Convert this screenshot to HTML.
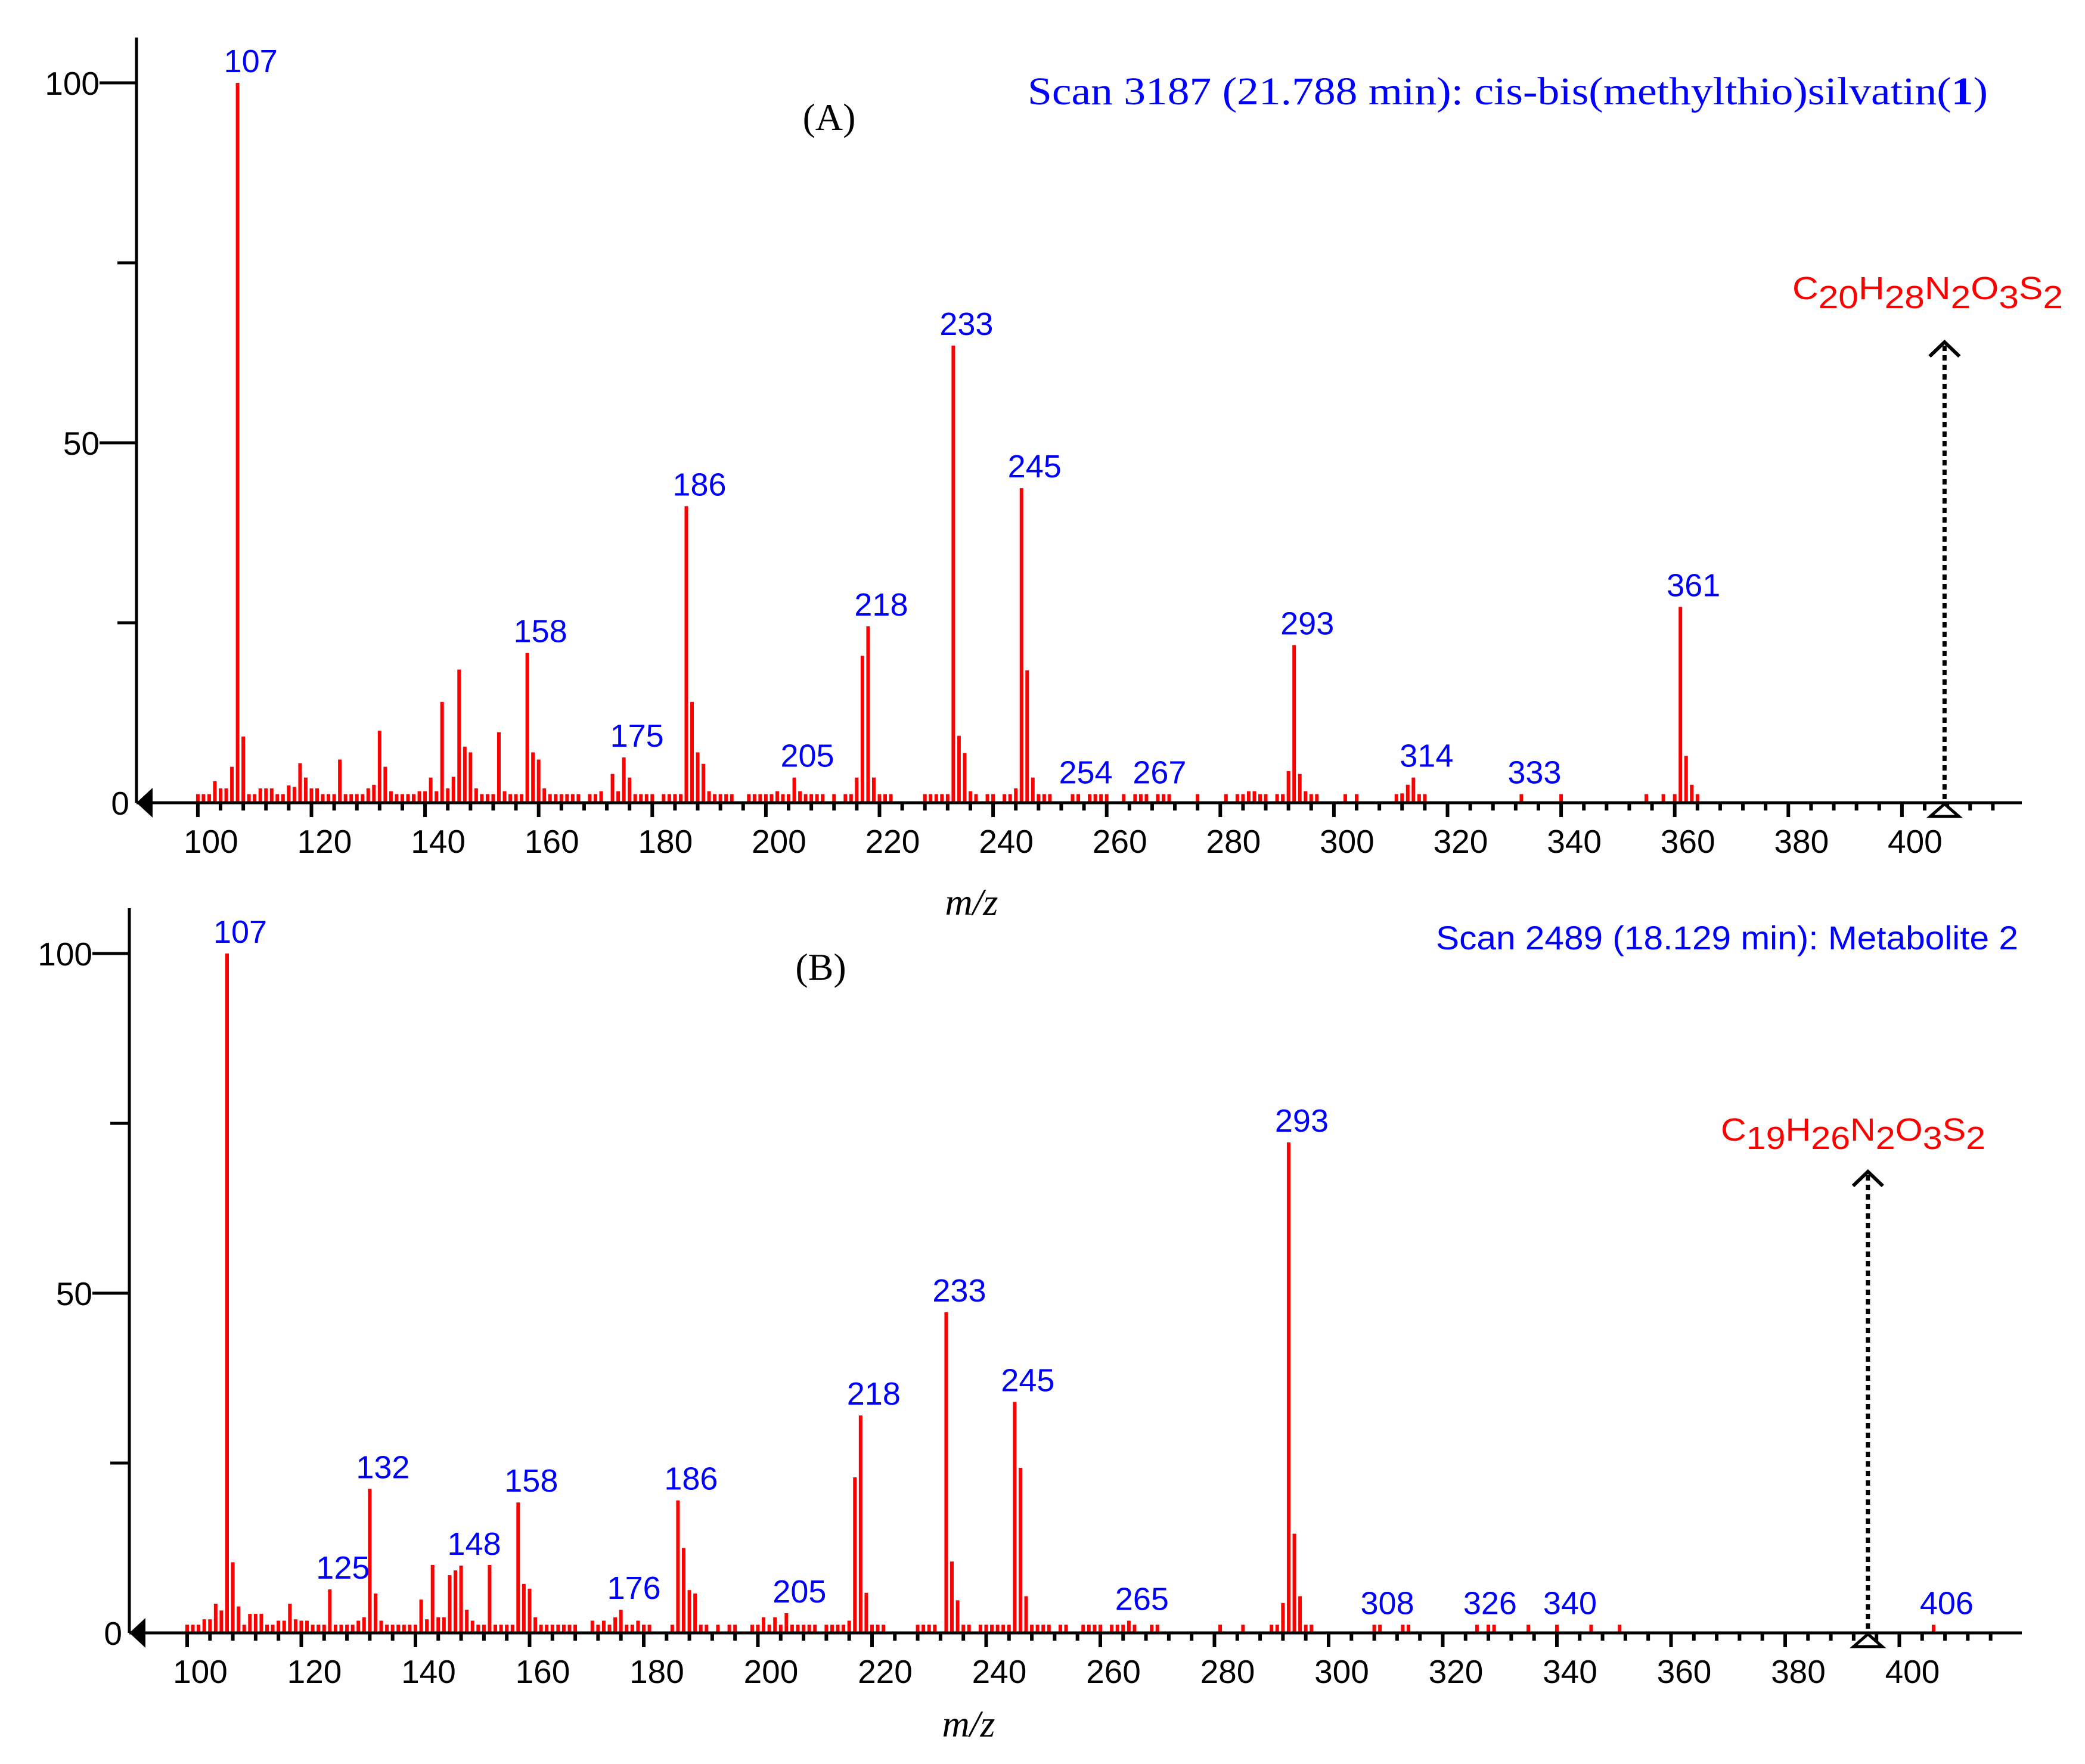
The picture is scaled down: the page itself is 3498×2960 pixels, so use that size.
<!DOCTYPE html>
<html><head><meta charset="utf-8"><style>
html,body{margin:0;padding:0;background:#fff;}
svg{display:block;}
</style></head><body>
<svg id="chart" xmlns="http://www.w3.org/2000/svg" width="3498" height="2960" viewBox="0 0 3498 2960">
<rect width="3498" height="2960" fill="#fff"/>
<g id="panelA"></g>
<g id="panelB"></g>
<text x="1391" y="218" font-family="Liberation Serif, serif" font-size="64" text-anchor="middle">(A)</text>
<text x="1377" y="1644" font-family="Liberation Serif, serif" font-size="64" text-anchor="middle">(B)</text>
<text x="1724" y="175" font-family="Liberation Serif, serif" font-size="66" fill="#0000ff" textLength="1611" lengthAdjust="spacingAndGlyphs">Scan 3187 (21.788 min): cis-bis(methylthio)silvatin(<tspan font-weight="bold">1</tspan>)</text>
<text x="2409" y="1593" font-family="Liberation Sans, sans-serif" font-size="56" fill="#0000ff" textLength="977" lengthAdjust="spacingAndGlyphs">Scan 2489 (18.129 min): Metabolite 2</text>
<text x="3007" y="502" font-family="Liberation Sans, sans-serif" font-size="54" fill="#ff0000" textLength="454" lengthAdjust="spacingAndGlyphs">C<tspan dy="15">20</tspan><tspan dy="-15">H</tspan><tspan dy="15">28</tspan><tspan dy="-15">N</tspan><tspan dy="15">2</tspan><tspan dy="-15">O</tspan><tspan dy="15">3</tspan><tspan dy="-15">S</tspan><tspan dy="15">2</tspan></text>
<text x="2887" y="1914" font-family="Liberation Sans, sans-serif" font-size="54" fill="#ff0000" textLength="444" lengthAdjust="spacingAndGlyphs">C<tspan dy="14">19</tspan><tspan dy="-14">H</tspan><tspan dy="14">26</tspan><tspan dy="-14">N</tspan><tspan dy="14">2</tspan><tspan dy="-14">O</tspan><tspan dy="14">3</tspan><tspan dy="-14">S</tspan><tspan dy="14">2</tspan></text>
<text x="1630" y="1535" font-family="Liberation Serif, serif" font-style="italic" font-size="64" text-anchor="middle">m/z</text>
<text x="1625" y="2914" font-family="Liberation Serif, serif" font-style="italic" font-size="64" text-anchor="middle">m/z</text>
</svg>
<script>
// Panel A data
const mzA = [100,101,102,103,104,105,106,107,108,109,110,111,112,113,114,115,116,117,118,119,120,121,122,123,124,125,126,127,128,129,130,131,132,133,134,135,136,137,138,139,140,141,142,143,144,145,146,147,148,149,150,151,152,153,154,155,156,157,158,159,160,161,162,163,164,165,166,167,169,170,171,173,174,175,176,177,178,179,180,182,183,184,185,186,187,188,189,190,191,192,193,194,197,198,199,200,201,202,203,204,205,206,207,208,209,210,212,214,215,216,217,218,219,220,221,222,228,229,230,231,232,233,234,235,236,237,239,240,242,243,244,245,246,247,248,249,250,254,255,257,258,259,260,263,265,266,267,269,270,271,276,281,283,284,285,286,287,288,290,291,292,293,294,295,296,297,302,304,311,312,313,314,315,316,333,340,355,358,360,361,362,363,364];
const intA = [1.2,1.2,1.2,3,2,2,5,100,9.2,1.2,1.2,2,2,2,1.2,1.2,2.4,2.2,5.5,3.5,2,2,1.2,1.2,1.2,6,1.2,1.2,1.2,1.2,2,2.5,10,5,1.6,1.2,1.2,1.2,1.2,1.6,1.6,3.5,1.6,14,2,3.6,18.5,7.8,7,2,1.2,1.2,1.2,9.8,1.6,1.2,1.2,1.2,20.8,7,6,2,1.2,1.2,1.2,1.2,1.2,1.2,1.2,1.2,1.6,4,1.6,6.3,3.5,1.2,1.2,1.2,1.2,1.2,1.2,1.2,1.2,41.2,14,7,5.4,1.6,1.2,1.2,1.2,1.2,1.2,1.2,1.2,1.2,1.2,1.6,1.2,1.2,3.5,1.6,1.2,1.2,1.2,1.2,1.2,1.2,1.2,3.5,20.4,24.5,3.5,1.2,1.2,1.2,1.2,1.2,1.2,1.2,1.2,63.5,9.3,6.9,1.6,1.2,1.2,1.2,1.2,1.2,2,43.7,18.4,3.5,1.2,1.2,1.2,1.2,1.2,1.2,1.2,1.2,1.2,1.2,1.2,1.2,1.2,1.2,1.2,1.2,1.2,1.2,1.2,1.2,1.6,1.6,1.2,1.2,1.2,1.2,4.4,21.9,4,1.6,1.2,1.2,1.2,1.2,1.2,1.3,2.5,3.5,1.2,1.2,1.2,1.2,1.2,1.2,1.2,27.2,6.5,2.5,1.2];
const labelsA = [107,158,175,186,205,218,233,245,254,267,293,314,333,361];
const arrowA = 407.5;
// Panel B data
const mzB = [100,101,102,103,104,105,106,107,108,109,110,111,112,113,114,115,116,117,118,119,120,121,122,123,124,125,126,127,128,129,130,131,132,133,134,135,136,137,138,139,140,141,142,143,144,145,146,147,148,149,150,151,152,153,154,155,156,157,158,159,160,161,162,163,164,165,166,167,168,171,172,173,174,175,176,177,178,179,180,181,185,186,187,188,189,190,191,193,195,196,199,200,201,202,203,204,205,206,207,208,209,210,212,213,214,215,216,217,218,219,220,221,222,228,229,230,231,233,234,235,236,237,239,240,241,242,243,244,245,246,247,248,249,250,251,253,254,257,258,259,260,262,263,264,265,266,269,270,281,285,290,291,292,293,294,295,296,297,308,309,313,314,326,328,329,335,340,346,351,406];
const intB = [1.2,1.2,1.2,2,2,4.3,3.3,100,10.4,3.9,1.2,2.8,2.8,2.8,1.2,1.2,1.8,1.8,4.3,2,1.8,1.8,1.2,1.2,1.2,6.4,1.2,1.2,1.2,1.2,1.8,2.3,21.2,5.8,1.8,1.2,1.2,1.2,1.2,1.2,1.2,4.9,2,10,2.3,2.3,8.5,9.2,9.9,3.4,1.8,1.2,1.2,10,1.2,1.2,1.2,1.2,19.2,7.2,6.5,2.3,1.2,1.2,1.2,1.2,1.2,1.2,1.2,1.8,1.2,1.8,1.2,2.3,3.4,1.2,1.2,1.8,1.2,1.2,1.2,19.5,12.5,6.3,5.8,1.2,1.2,1.2,1.2,1.2,1.2,1.2,2.3,1.2,2.3,1.2,2.9,1.2,1.2,1.2,1.2,1.2,1.2,1.2,1.2,1.2,1.8,22.9,32,5.9,1.2,1.2,1.2,1.2,1.2,1.2,1.2,47.2,10.5,4.8,1.2,1.2,1.2,1.2,1.2,1.2,1.2,1.2,34,24.3,5.4,1.2,1.2,1.2,1.2,1.2,1.2,1.2,1.2,1.2,1.2,1.2,1.2,1.2,1.8,1.2,1.2,1.2,1.2,1.2,1.2,1.2,4.4,72.2,14.6,5.4,1.2,1.2,1.2,1.2,1.2,1.2,1.2,1.2,1.2,1.2,1.2,1.2,1.2,1.2];
const labelsB = [107,125,132,148,158,176,186,205,218,233,245,265,293,308,326,340,406];
const arrowB = 394.5;
const xTicks = [100,120,140,160,180,200,220,240,260,280,300,320,340,360,380,400];
const yTicks = [0,50,100];

const NS = 'http://www.w3.org/2000/svg';
function mk(tag, attrs, parent){const e=document.createElementNS(NS,tag);for(const k in attrs)e.setAttribute(k,attrs[k]);parent.appendChild(e);return e;}

function drawPanel(g, cfg, mz, inten, labels, arrowMz){
  const x = m => cfg.x107 + (m-107)*cfg.px;
  const y = v => cfg.y0 - v*cfg.py;
  for(let i=0;i<mz.length;i++){
    const r = mk('rect',{x:x(mz[i])-3, y:y(inten[i]), width:6, height:cfg.y0-y(inten[i]), fill:'#ff0000'}, g);
    
    
  }
  const ax = mk('line',{x1:cfg.ax, y1:cfg.y0, x2:3392, y2:cfg.y0, stroke:'#000','stroke-width':5}, g);
  
  
  const ay = mk('line',{x1:cfg.ax, y1:cfg.top, x2:cfg.ax, y2:cfg.y0, stroke:'#000','stroke-width':5}, g);
  
  
  const tri = mk('polygon',{points:`${cfg.ax},${cfg.y0} ${cfg.ax+27},${cfg.y0-25} ${cfg.ax+27},${cfg.y0+25}`, fill:'#000'}, g);
  
  
  for(let t=100;t<=416;t+=4){
    const major = (t%20===0);
    const tk = mk('line',{x1:x(t), y1:cfg.y0, x2:x(t), y2:cfg.y0+(major?24:13), stroke:'#000','stroke-width':6}, g);
    
    
  }
  xTicks.forEach(t=>{
    const tl = mk('text',{x:x(t)+22, y:cfg.y0+84, 'font-family':'Liberation Sans, sans-serif','font-size':55,'text-anchor':'middle'}, g);
    tl.textContent = t;
    
    
  });
  [25,75].forEach(v=>{
    const tk = mk('line',{x1:cfg.ax-32, y1:y(v), x2:cfg.ax, y2:y(v), stroke:'#000','stroke-width':5}, g);
    
    
  });
  yTicks.forEach(v=>{
    if(v>0){
      const tk = mk('line',{x1:cfg.ax-62, y1:y(v), x2:cfg.ax, y2:y(v), stroke:'#000','stroke-width':5}, g);
      
      
    }
    const tl = mk('text',{x:(v===0?cfg.ax-12:cfg.ax-62), y:y(v)+20, 'font-family':'Liberation Sans, sans-serif','font-size':55,'text-anchor':'end'}, g);
    tl.textContent = v;
    
    
  });
  labels.forEach(m=>{
    const i = mz.indexOf(m);
    const v = i>=0 ? inten[i] : 1;
    const tl = mk('text',{x:x(m)+22, y:y(v)-18, 'font-family':'Liberation Sans, sans-serif','font-size':54,'text-anchor':'middle', fill:'#0000ff'}, g);
    tl.textContent = m;
    
    
  });
  const xa = x(arrowMz);
  const dl = mk('line',{x1:xa, y1:cfg.arrowTop+6, x2:xa, y2:cfg.y0-4, stroke:'#000','stroke-width':7,'stroke-dasharray':'9 7'}, g);
  
  
  const hd = mk('polyline',{points:`${xa-25},${cfg.arrowTop+24} ${xa},${cfg.arrowTop} ${xa+25},${cfg.arrowTop+24}`, fill:'none', stroke:'#000','stroke-width':6}, g);
  
  
  const bt = mk('polygon',{points:`${xa},${cfg.y0+2} ${xa-24},${cfg.y0+23} ${xa+24},${cfg.y0+23}`, fill:'#fff', stroke:'#000','stroke-width':5}, g);
  
  
}
drawPanel(document.getElementById('panelA'), {x107:398.6, px:9.53, y0:1347, py:12.08, ax:229, top:63, arrowTop:574}, mzA, intA, labelsA, arrowA);
drawPanel(document.getElementById('panelB'), {x107:381, px:9.575, y0:2740, py:11.40, ax:217, top:1524, arrowTop:1966}, mzB, intB, labelsB, arrowB);
</script>
</body></html>
